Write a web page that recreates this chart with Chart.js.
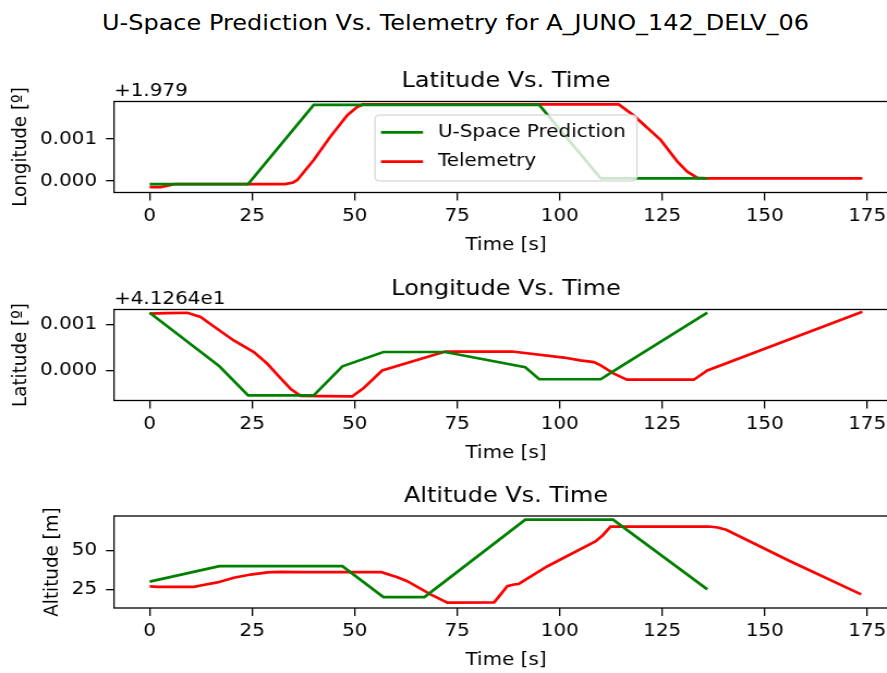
<!DOCTYPE html>
<html>
<head>
<meta charset="utf-8">
<script src="https://cdn.jsdelivr.net/npm/chart.js@4/dist/chart.umd.min.js"></script>
<style>
  body { margin: 0; background: #fff; overflow: hidden; }
  #page { position: relative; width: 887px; height: 673px; overflow: hidden; background: #fff; }
  #suptitle {
    position: absolute; left: 0; top: 10px; width: 911px; line-height: 26px;
    text-align: center; font: 22px "DejaVu Sans"; color: #000;
    transform: scaleX(1.0896); transform-origin: 455.5px 0;
  }
  canvas { position: absolute; left: 0; }
</style>
</head>
<body>
<div id="page">
  <div id="suptitle">U-Space Prediction Vs. Telemetry for A_JUNO_142_DELV_06</div>
  <canvas id="chart-lat" style="top:40px"></canvas>
  <canvas id="chart-lon" style="top:270px"></canvas>
  <canvas id="chart-alt" style="top:480px"></canvas>
</div>
<script>
// waypoints of the U-Space prediction (time in s)
const predTime = [0, 17, 24, 40, 47, 57, 67, 72, 91.6, 95, 110, 113, 136];
// first panel, offset +1.979
const predLatitude = [-0.00008, -0.00008, -0.00008, 0.00182, 0.00182, 0.00182, 0.00182, 0.00182, 0.00182, 0.00182, 0.00006, 0.00006, 0.00006];
// second panel, offset +4.1264e1
const predLongitude = [0.00125, 0.00009, -0.00054, -0.00054, 0.00009, 0.0004, 0.0004, 0.0004, 0.00007, -0.00019, -0.00019, -0.00002, 0.00125];
const predAltitude = [30, 40, 40, 40, 40, 20, 20, 30.2, 70, 70, 70, 70, 25];

// telemetry
const telLatTime = [0, 2.7, 6, 33, 35, 36, 40, 44, 48.2, 50.6, 52, 114.4, 116.2, 118, 121, 124.6, 128.7, 131.1, 133.6, 136, 173.8];
const telLatitude = [-0.00015, -0.00015, -0.00008, -0.00008, -0.00004, 0.00002, 0.0005, 0.00105, 0.00157, 0.00177, 0.00183, 0.00183, 0.0017, 0.00157, 0.0013, 0.00098, 0.00046, 0.00022, 0.00007, 0.00006, 0.00006];

const telLonTime = [0, 4, 9.2, 12.4, 16, 20.5, 25.4, 28.7, 31.5, 34.4, 36.8, 49.4, 52.2, 56.7, 72.1, 88.4, 101, 105, 108.3, 110, 113.2, 116.4, 132.7, 136, 173.8];
const telLongitude = [0.00123, 0.00124, 0.00125, 0.00116, 0.00093, 0.00065, 0.0004, 0.000145, -0.00013, -0.0004, -0.00055, -0.00056, -0.00038, 0.0, 0.00041, 0.00041, 0.00028, 0.00022, 0.00018, 0.00011, -0.00007, -0.0002, -0.0002, 0.0, 0.00127];

const telAltTime = [0, 2, 10.8, 12.4, 16.5, 20.5, 24.6, 28.7, 32, 37, 45, 56.5, 60.4, 62.8, 68.5, 72.6, 84, 85.5, 87.2, 88.8, 90, 96.9, 108.7, 110.5, 112.4, 136.4, 138.5, 140.6, 156.2, 173.5];
const telAltitude = [27, 26.7, 26.7, 27.5, 29.5, 32.5, 34.6, 36, 36.3, 36.1, 36.2, 36.1, 32.9, 30.3, 21.8, 16.5, 16.6, 21.5, 27.1, 28.2, 28.5, 39.8, 56, 60, 65.6, 65.6, 65, 63.5, 43.2, 21.8];

// tick labels
const timeTicks = [0, 25, 50, 75, 100, 125, 150, 175];
const latTicks = [0.000, 0.001];
const lonTicks = [0.000, 0.001];
const altTicks = [25, 50];

const FONT = "DejaVu Sans";
// the reference picture is a bit wider than tall: draw narrow, stretch with css
const SX = 900 / 826;
Chart.defaults.font.family = FONT;
Chart.defaults.font.size = 18.3;
Chart.defaults.color = "#000";

function pares(xs, ys) {
  return xs.map((x, i) => ({ x: x, y: ys[i] }));
}

// frame round the plot area, like matplotlib spines
const moldura = {
  id: "moldura",
  afterDatasetsDraw(chart) {
    const { ctx, chartArea } = chart;
    ctx.save();
    ctx.strokeStyle = "#000";
    ctx.lineWidth = 1.3;
    ctx.strokeRect(chartArea.left, chartArea.top, chartArea.right - chartArea.left, chartArea.bottom - chartArea.top);
    ctx.restore();
  }
};

// offset text above the y axis ("+1.979")
const offsetTexto = {
  id: "offsetTexto",
  afterDraw(chart, args, opts) {
    if (!opts.text) return;
    const ctx = chart.ctx;
    ctx.save();
    ctx.font = "18.3px '" + FONT + "'";
    ctx.fillStyle = "#000";
    ctx.textAlign = "left";
    ctx.textBaseline = "alphabetic";
    ctx.fillText(opts.text, chart.chartArea.left, chart.chartArea.top - 5.3);
    ctx.restore();
  }
};

// framed legend inside the plot, matplotlib style
const legendaCaixa = {
  id: "legendaCaixa",
  afterDraw(chart, args, opts) {
    if (!opts.show) return;
    const { ctx, chartArea } = chart;
    const x = chartArea.left + 261 / SX, y = chartArea.top + 13.5, w = 262 / SX, h = 66;
    ctx.save();
    ctx.beginPath();
    ctx.roundRect(x, y, w, h, 4);
    ctx.fillStyle = "rgba(255,255,255,0.8)";
    ctx.fill();
    ctx.strokeStyle = "#cccccc";
    ctx.lineWidth = 1;
    ctx.stroke();
    ctx.font = "18.3px '" + FONT + "'";
    ctx.textBaseline = "middle";
    chart.data.datasets.forEach((ds, i) => {
      const ly = y + 17.3 + i * 29.4;
      ctx.strokeStyle = ds.borderColor;
      ctx.lineWidth = ds.borderWidth;
      ctx.beginPath();
      ctx.moveTo(x + 6 / SX, ly);
      ctx.lineTo(x + 48 / SX, ly);
      ctx.stroke();
      ctx.fillStyle = "#000";
      ctx.fillText(ds.label, x + 63 / SX, ly);
    });
    ctx.restore();
  }
};

function criarGrafico(id, cfg) {
  const canvas = document.getElementById(id);
  canvas.width = 826;
  canvas.height = cfg.height;
  canvas.style.width = "900px";
  canvas.style.height = cfg.height + "px";

  const eixoX = cfg.height - (cfg.boxBottom - cfg.top);

  return new Chart(canvas, {
    type: "line",
    data: {
      datasets: [{
        label: "U-Space Prediction",
        data: pares(predTime, cfg.pred),
        borderColor: "green",
        borderWidth: 2.7,
        pointRadius: 0,
        tension: 0
      }, {
        label: "Telemetry",
        data: pares(cfg.telTime, cfg.tel),
        borderColor: "red",
        borderWidth: 2.7,
        pointRadius: 0,
        tension: 0
      }]
    },
    plugins: [moldura, offsetTexto, legendaCaixa],
    options: {
      responsive: false,
      animation: false,
      devicePixelRatio: 1,
      layout: { padding: { top: cfg.boxTop - cfg.top - 33.2, left: 0, right: 826 - 898 / SX, bottom: 0 } },
      plugins: {
        legend: { display: false },
        tooltip: { enabled: false },
        title: {
          display: true,
          text: cfg.title,
          fullSize: false,
          color: "#000",
          font: { size: 22, weight: "normal" },
          padding: { top: 0, bottom: 6.8 }
        },
        offsetTexto: { text: cfg.offset },
        legendaCaixa: { show: cfg.legend }
      },
      scales: {
        x: {
          type: "linear",
          min: -8.7,
          max: 182.5,
          border: { display: false },
          grid: { drawOnChartArea: false, drawTicks: true, tickLength: 8, color: "#000", lineWidth: 1.3 },
          ticks: { padding: 4.5, maxRotation: 0 },
          title: { display: true, text: "Time [s]", padding: { top: 0, bottom: eixoX - 63.3 } },
          afterBuildTicks: (scale) => { scale.ticks = timeTicks.map(v => ({ value: v })); },
          afterFit: (scale) => { scale.height = eixoX; }
        },
        y: {
          type: "linear",
          min: cfg.yMin,
          max: cfg.yMax,
          border: { display: false },
          grid: { drawOnChartArea: false, drawTicks: true, tickLength: 8 / SX, color: "#000", lineWidth: 1.3 },
          ticks: { padding: 9 / SX, callback: cfg.fmt },
          title: { display: true, text: cfg.yLabel, padding: { top: cfg.yLabelX / SX - 11, bottom: 0 } },
          afterBuildTicks: (scale) => { scale.ticks = cfg.yTicks.map(v => ({ value: v })); },
          afterFit: (scale) => { scale.width = 114 / SX; }
        }
      }
    }
  });
}

criarGrafico("chart-lat", {
  top: 40, height: 230, boxTop: 101.5, boxBottom: 192.5,
  title: "Latitude Vs. Time", yLabel: "Longitude [º]", yLabelX: 21.5, offset: "+1.979",
  pred: predLatitude, telTime: telLatTime, tel: telLatitude,
  yMin: -0.00028, yMax: 0.0019, yTicks: latTicks, fmt: v => v.toFixed(3), legend: true
});

criarGrafico("chart-lon", {
  top: 270, height: 210, boxTop: 309.5, boxBottom: 400.5,
  title: "Longitude Vs. Time", yLabel: "Latitude [º]", yLabelX: 21.5, offset: "+4.1264e1",
  pred: predLongitude, telTime: telLonTime, tel: telLongitude,
  yMin: -0.00065, yMax: 0.00132, yTicks: lonTicks, fmt: v => v.toFixed(3), legend: false
});

criarGrafico("chart-alt", {
  top: 480, height: 193, boxTop: 516, boxBottom: 608,
  title: "Altitude Vs. Time", yLabel: "Altitude [m]", yLabelX: 53, offset: "",
  pred: predAltitude, telTime: telAltTime, tel: telAltitude,
  yMin: 13, yMax: 72.4, yTicks: altTicks, fmt: v => String(v), legend: false
});
</script>
</body>
</html>
